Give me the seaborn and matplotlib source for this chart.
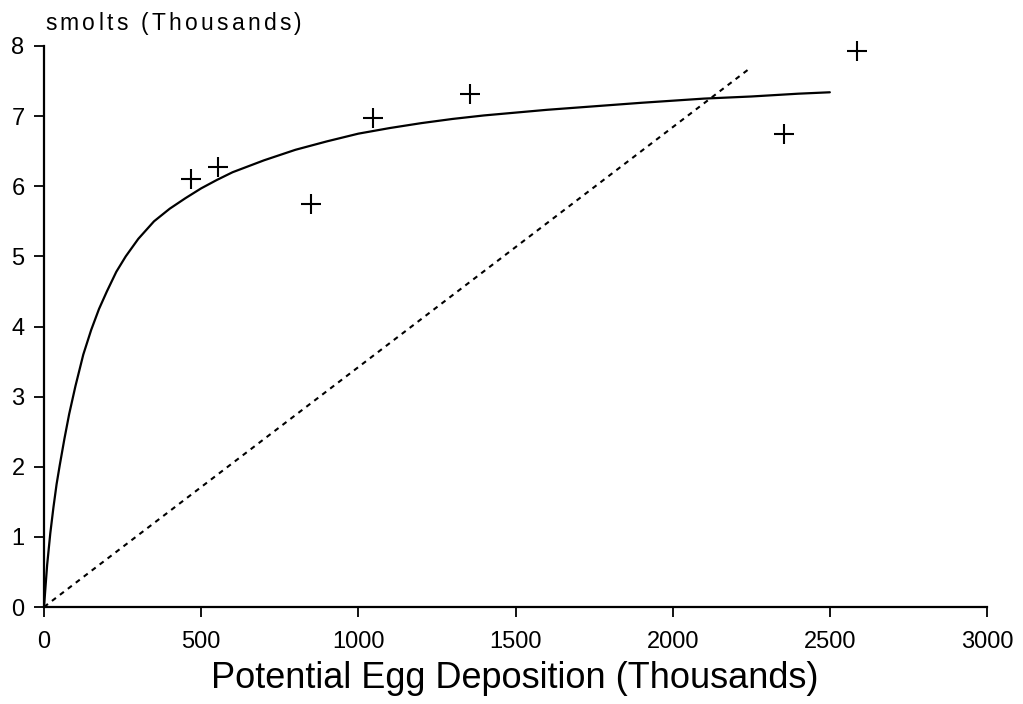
import matplotlib
matplotlib.use("Agg")
import matplotlib.pyplot as plt
import seaborn as sns
import pandas as pd

# ---- data ----
obs_eggs = [468, 555, 848, 1048, 1356, 2355, 2588]
obs_smolts = [6.10, 6.27, 5.74, 6.97, 7.31, 6.75, 7.93]

curve_eggs = [0, 10, 20, 30, 40, 50, 65, 80, 100, 125, 150, 175, 200, 230, 260,
              300, 350, 400, 450, 500, 550, 600, 700, 800, 900, 1000, 1100, 1200,
              1300, 1400, 1500, 1600, 1750, 1900, 2000, 2100, 2250, 2400, 2500]
curve_smolts = [0, 0.6, 1.05, 1.42, 1.75, 2.02, 2.4, 2.75, 3.15, 3.6, 3.95, 4.25,
                4.5, 4.78, 5.0, 5.25, 5.5, 5.68, 5.83, 5.97, 6.09, 6.2, 6.37, 6.52,
                6.64, 6.75, 6.83, 6.9, 6.96, 7.01, 7.05, 7.09, 7.14, 7.19, 7.22,
                7.25, 7.28, 7.32, 7.34]

replace_eggs = [0, 2245]
replace_smolts = [0, 7.68]

x_ticks = [0, 500, 1000, 1500, 2000, 2500, 3000]
y_ticks = [0, 1, 2, 3, 4, 5, 6, 7, 8]

y_title = "smolts (Thousands)"
x_title = "Potential Egg Deposition (Thousands)"

sns.set_theme(style="white")
FAM = ['Liberation Sans', 'DejaVu Sans']
plt.rcParams['font.family'] = FAM

W, H = 1023, 704
X0, X1, Y0, Y1 = 44, 987, 607, 46
fig = plt.figure(figsize=(W / 100, H / 100), dpi=100)
ax = fig.add_axes([X0 / W, (H - Y0) / H, (X1 - X0) / W, (Y0 - Y1) / H])

curve_df = pd.DataFrame({"x": curve_eggs, "y": curve_smolts})
repl_df = pd.DataFrame({"x": replace_eggs, "y": replace_smolts})
obs_df = pd.DataFrame({"x": obs_eggs, "y": obs_smolts})

sns.lineplot(data=curve_df, x="x", y="y", ax=ax, color="black", linewidth=1.6,
             sort=False, estimator=None)
sns.lineplot(data=repl_df, x="x", y="y", ax=ax, color="black", linewidth=1.5,
             estimator=None)
ax.lines[-1].set_dashes([2.4, 2.4])
sns.scatterplot(data=obs_df, x="x", y="y", ax=ax, marker="+", s=210,
                color="black", linewidth=1.5, clip_on=False)

ax.set_xlim(0, 3000)
ax.set_ylim(0, 8)
ax.set_xticks(x_ticks)
ax.set_yticks(y_ticks)
ax.set_xticklabels([str(t) for t in x_ticks], family=FAM, fontsize=17)
ax.set_yticklabels([str(t) for t in y_ticks], family=FAM, fontsize=17)
ax.set_xlabel("")
ax.set_ylabel("")
ax.tick_params(axis="both", direction="out", length=7.5, width=1.3, color="black",
               labelcolor="black", bottom=True, left=True)
ax.tick_params(axis="x", pad=10)
ax.tick_params(axis="y", pad=6.5)

for side in ["top", "right"]:
    ax.spines[side].set_visible(False)
for side in ["left", "bottom"]:
    ax.spines[side].set_color("black")
    ax.spines[side].set_linewidth(1.6)
ax.set_facecolor("white")
fig.patch.set_facecolor("white")

# slightly tracked y title (the reference text is set wide)
adv = {'s': .5, 'm': .833, 'o': .556, 'l': .222, 't': .278, ' ': .278, '(': .333,
       'T': .611, 'h': .556, 'u': .556, 'a': .556, 'n': .556, 'd': .556, ')': .333}
size_pt = 16.5
em_px = size_pt * 100 / 72
natural = sum(adv.get(c, .556) for c in y_title) * em_px
target_w = 302 - 45
track = (target_w - natural) / (len(y_title) - 1)
cx = 45.0
for ch in y_title:
    fig.text(cx / W, 1 - 30 / H, ch, fontsize=size_pt, va="baseline", ha="left",
             color="black", family=FAM)
    cx += adv.get(ch, .556) * em_px + track

fig.text(515 / W, 1 - 688 / H, x_title, fontsize=26, va="baseline", ha="center",
         color="black", family=FAM)

fig.savefig("out.png", dpi=100, facecolor="white")
